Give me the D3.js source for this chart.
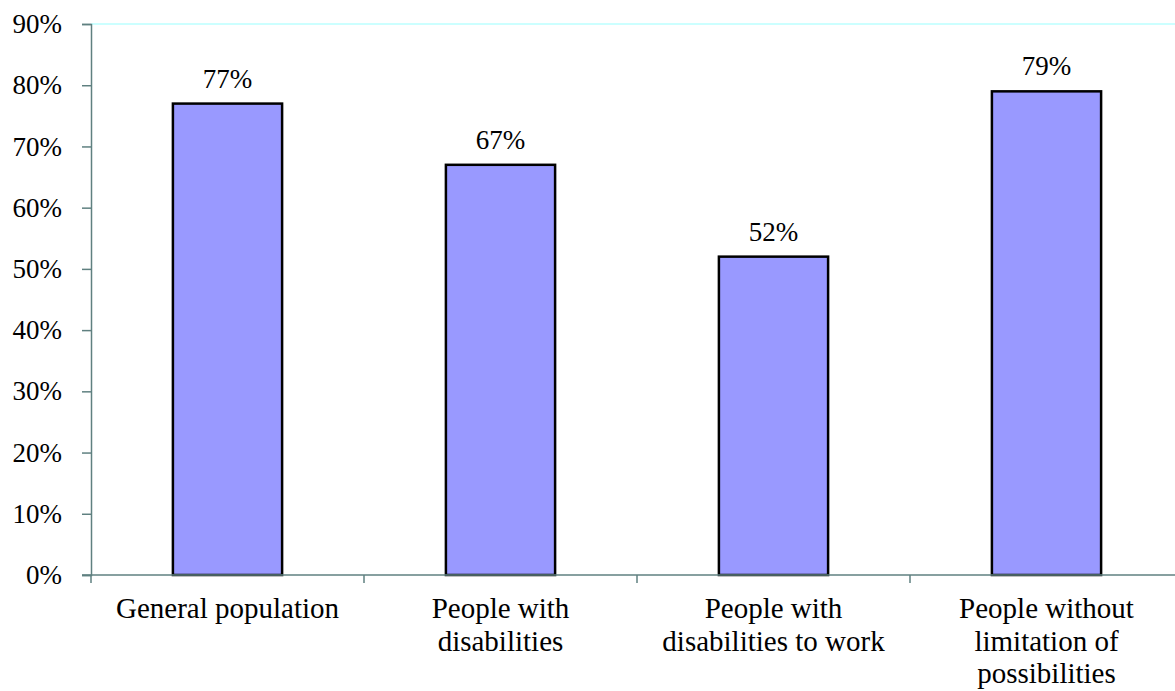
<!DOCTYPE html>
<html>
<head>
<meta charset="utf-8">
<script src="https://cdn.jsdelivr.net/npm/d3@7"></script>
<style>
  body { margin: 0; background: #fff; }
</style>
</head>
<body>
<svg id="chart" width="1175" height="691"></svg>
<script>
// chart data
const categories = [
    ["General population"],
    ["People with", "disabilities"],
    ["People with", "disabilities to work"],
    ["People without", "limitation of", "possibilities"]
];
const values = [77, 67, 52, 79];
const yTicks = [0, 10, 20, 30, 40, 50, 60, 70, 80, 90];

const serif = '"Liberation Serif"';
const svg = d3.select("#chart");
const margin = { top: 24, left: 91, bottom: 116 };
const plotRight = 1183;
const plotBottom = 691 - margin.bottom; // 575

const x = d3.scaleBand()
    .domain(d3.range(categories.length))
    .range([margin.left, plotRight])
    .paddingInner(0.6)
    .paddingOuter(0.3);

const y = d3.scaleLinear()
    .domain([0, 90])
    .range([plotBottom, margin.top]);

const axisColor = "#5f8080";

// top gridline (light cyan)
svg.append("line")
    .attr("x1", margin.left).attr("x2", plotRight)
    .attr("y1", y(90)).attr("y2", y(90))
    .attr("stroke", "#ccffff")
    .attr("stroke-width", 2);

// bars
svg.selectAll("rect.bar")
    .data(values)
    .enter()
    .append("rect")
    .attr("class", "bar")
    .attr("x", (d, i) => x(i))
    .attr("y", d => y(d))
    .attr("width", x.bandwidth())
    .attr("height", d => plotBottom - y(d))
    .attr("fill", "#9999ff")
    .attr("stroke", "#000")
    .attr("stroke-width", 2.5);

// value labels
svg.selectAll("text.value")
    .data(values)
    .enter()
    .append("text")
    .attr("class", "value")
    .attr("x", (d, i) => x(i) + x.bandwidth() / 2)
    .attr("y", d => y(d) - 16)
    .attr("text-anchor", "middle")
    .style("font-family", serif)
    .style("font-size", "27px")
    .text(d => d + "%");

// y axis
const yAxis = svg.append("g")
    .attr("transform", `translate(${margin.left},0)`)
    .call(d3.axisLeft(y).tickValues(yTicks).tickFormat(d => d + "%").tickSize(9).tickPadding(20));
yAxis.select(".domain").attr("stroke", axisColor).attr("stroke-width", 1.5);
yAxis.selectAll(".tick line").attr("stroke", axisColor).attr("stroke-width", 1.5);
yAxis.selectAll(".tick text")
    .attr("fill", "#000")
    .style("font-family", serif)
    .style("font-size", "27px");

// x axis line + category ticks
const step = x.step();
const tickXs = d3.range(categories.length + 1).map(i => x(0) - x.step() * x.paddingOuter() + i * step);
svg.append("line")
    .attr("x1", margin.left - 9).attr("x2", plotRight)
    .attr("y1", plotBottom).attr("y2", plotBottom)
    .attr("stroke", axisColor)
    .attr("stroke-width", 1.5);
svg.selectAll("line.xtick")
    .data(tickXs)
    .enter()
    .append("line")
    .attr("class", "xtick")
    .attr("x1", d => d).attr("x2", d => d)
    .attr("y1", plotBottom).attr("y2", plotBottom + 8)
    .attr("stroke", axisColor)
    .attr("stroke-width", 1.5);

// category labels
categories.forEach((lines, i) => {
    const t = svg.append("text")
        .attr("x", x(i) + x.bandwidth() / 2)
        .attr("y", plotBottom + 43)
        .attr("text-anchor", "middle")
        .style("font-family", serif)
        .style("font-size", "29px");
    lines.forEach((ln, j) => {
        t.append("tspan")
            .attr("x", x(i) + x.bandwidth() / 2)
            .attr("dy", j === 0 ? 0 : 32.5)
            .text(ln);
    });
});
</script>
</body>
</html>
